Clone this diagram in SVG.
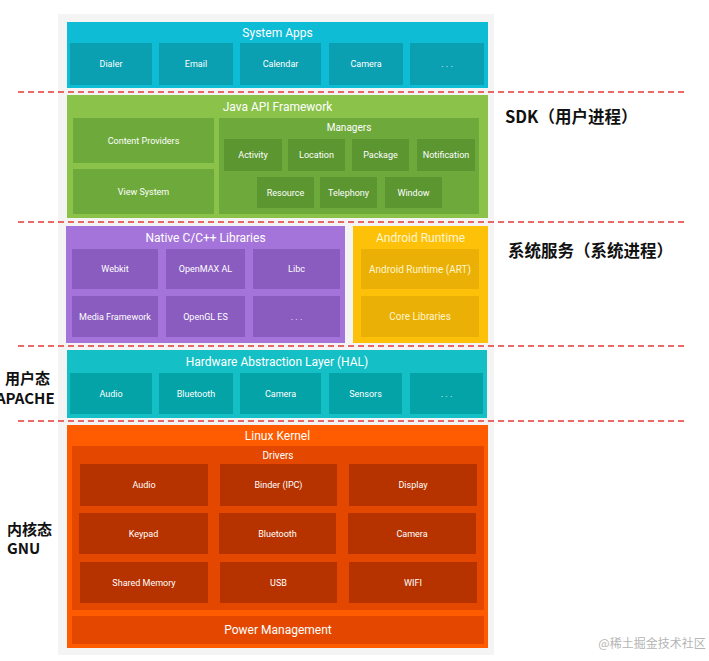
<svg xmlns="http://www.w3.org/2000/svg" width="709" height="661" viewBox="0 0 709 661">
<style>
text{font-family:Roboto,"Noto Sans","Liberation Sans",sans-serif;fill:#ffffff;text-anchor:middle;dominant-baseline:central}
.t{font-size:12px}
.m{font-size:10px}
.s{font-size:9px}
.cn{font-family:"Noto Sans CJK SC","Noto Sans",sans-serif;font-weight:bold;fill:#111;text-anchor:start;dominant-baseline:alphabetic}
.dash{stroke:#e53935;stroke-width:1.4;stroke-dasharray:6 4;fill:none}
.apps{fill:#0fbcd6}.appsb{fill:#0a9fb1}
.java{fill:#8bc34a}.javab{fill:#6eaa3b}.javam{fill:#5b9631}
.nat{fill:#a574da}.natb{fill:#8a5cc0}
.art{fill:#fdc10a}.artb{fill:#ebb005}
.hal{fill:#14c0c6}.halb{fill:#03a3a7}
.ker{fill:#ff5b00}.kerd{fill:#e44800}.kerb{fill:#b63300}
</style>
<rect x="0" y="0" width="709" height="661" fill="#ffffff"/>
<rect x="58" y="14" width="436" height="641" fill="#f4f4f4"/>

<g id="system-apps">
<rect class="apps" x="67" y="22" width="421" height="66"/>
<text class="t" x="277.5" y="33">System Apps</text>
<rect class="appsb" x="70" y="43" width="82" height="42"/><text class="s" x="111" y="64">Dialer</text>
<rect class="appsb" x="159" y="43" width="74" height="42"/><text class="s" x="196" y="64">Email</text>
<rect class="appsb" x="240" y="43" width="81" height="42"/><text class="s" x="280.5" y="64">Calendar</text>
<rect class="appsb" x="329" y="43" width="74" height="42"/><text class="s" x="366" y="64">Camera</text>
<rect class="appsb" x="410" y="43" width="74" height="42"/><text class="s" x="447" y="64">. . .</text>
</g>

<g id="java-api-framework">
<rect class="java" x="67" y="95" width="421" height="123"/>
<text class="t" x="277.5" y="107">Java API Framework</text>
<rect class="javab" x="73" y="118" width="141" height="45"/><text class="s" x="143.5" y="140.5">Content Providers</text>
<rect class="javab" x="73" y="169" width="141" height="45"/><text class="s" x="143.5" y="191.5">View System</text>
<rect class="javab" x="219" y="118" width="260" height="96"/><text class="m" x="349" y="127">Managers</text>
<rect class="javam" x="224" y="139" width="58" height="32"/><text class="s" x="253" y="155">Activity</text>
<rect class="javam" x="288" y="139" width="57" height="32"/><text class="s" x="316.5" y="155">Location</text>
<rect class="javam" x="352" y="139" width="57" height="32"/><text class="s" x="380.5" y="155">Package</text>
<rect class="javam" x="417" y="139" width="58" height="32"/><text class="s" x="446" y="155">Notification</text>
<rect class="javam" x="257" y="177" width="57" height="31"/><text class="s" x="285.5" y="192.5">Resource</text>
<rect class="javam" x="320" y="177" width="57" height="31"/><text class="s" x="348.5" y="192.5">Telephony</text>
<rect class="javam" x="385" y="177" width="57" height="31"/><text class="s" x="413.5" y="192.5">Window</text>
</g>

<g id="native-libraries">
<rect class="nat" x="66" y="226" width="279" height="117"/>
<text class="t" x="205.5" y="238">Native C/C++ Libraries</text>
<rect class="natb" x="72" y="249" width="86" height="40"/><text class="s" x="115" y="269">Webkit</text>
<rect class="natb" x="166" y="249" width="79" height="40"/><text class="s" x="205.5" y="269">OpenMAX AL</text>
<rect class="natb" x="253" y="249" width="87" height="40"/><text class="s" x="296.5" y="269">Libc</text>
<rect class="natb" x="72" y="296" width="86" height="41"/><text class="s" x="115" y="316.5">Media Framework</text>
<rect class="natb" x="166" y="296" width="79" height="41"/><text class="s" x="205.5" y="316.5">OpenGL ES</text>
<rect class="natb" x="253" y="296" width="87" height="41"/><text class="s" x="296.5" y="316.5">. . .</text>
</g>

<g id="android-runtime">
<rect class="art" x="353" y="226" width="135" height="117"/>
<text class="t" x="420.5" y="238" style="fill:#fff6d0">Android Runtime</text>
<rect class="artb" x="361" y="249" width="118" height="40"/><text x="420" y="269" style="fill:#fff6d0;font-size:10px">Android Runtime (ART)</text>
<rect class="artb" x="361" y="296" width="118" height="41"/><text x="420" y="316.5" style="fill:#fff6d0;font-size:10px">Core Libraries</text>
</g>

<g id="hal">
<rect class="hal" x="67" y="350" width="420" height="68"/>
<text class="t" x="277" y="362">Hardware Abstraction Layer (HAL)</text>
<rect class="halb" x="70" y="373" width="82" height="41"/><text class="s" x="111" y="393.5">Audio</text>
<rect class="halb" x="159" y="373" width="74" height="41"/><text class="s" x="196" y="393.5">Bluetooth</text>
<rect class="halb" x="240" y="373" width="81" height="41"/><text class="s" x="280.5" y="393.5">Camera</text>
<rect class="halb" x="329" y="373" width="73" height="41"/><text class="s" x="365.5" y="393.5">Sensors</text>
<rect class="halb" x="410" y="373" width="73" height="41"/><text class="s" x="446.5" y="393.5">. . .</text>
</g>

<g id="linux-kernel">
<rect class="ker" x="67" y="425" width="421" height="223"/>
<text class="t" x="277.5" y="436">Linux Kernel</text>
<rect class="kerd" x="72" y="446" width="412" height="164"/>
<text class="m" x="278" y="455">Drivers</text>
<rect class="kerb" x="80" y="464" width="128" height="42"/><text class="s" x="144" y="485">Audio</text>
<rect class="kerb" x="220" y="464" width="117" height="42"/><text class="s" x="278.5" y="485">Binder (IPC)</text>
<rect class="kerb" x="349" y="464" width="128" height="42"/><text class="s" x="413" y="485">Display</text>
<rect class="kerb" x="79" y="513" width="129" height="41"/><text class="s" x="143.5" y="533.5">Keypad</text>
<rect class="kerb" x="219" y="513" width="117" height="41"/><text class="s" x="277.5" y="533.5">Bluetooth</text>
<rect class="kerb" x="348" y="513" width="128" height="41"/><text class="s" x="412" y="533.5">Camera</text>
<rect class="kerb" x="80" y="562" width="128" height="41"/><text class="s" x="144" y="582.5">Shared Memory</text>
<rect class="kerb" x="220" y="562" width="117" height="41"/><text class="s" x="278.5" y="582.5">USB</text>
<rect class="kerb" x="349" y="562" width="128" height="41"/><text class="s" x="413" y="582.5">WIFI</text>
<rect class="kerd" x="72" y="616" width="412" height="28"/>
<text class="t" x="278" y="630">Power Management</text>
</g>

<g id="connectors">
<line class="dash" x1="18" y1="92" x2="686" y2="92"/>
<line class="dash" x1="18" y1="222" x2="686" y2="222"/>
<line class="dash" x1="18" y1="346" x2="686" y2="346"/>
<line class="dash" x1="18" y1="421" x2="686" y2="421"/>
</g>

<g id="labels">
<text class="cn" x="505" y="123" style="font-size:16.5px">SDK（用户进程）</text>
<text class="cn" x="508" y="257" style="font-size:16.5px">系统服务（系统进程）</text>
<text class="cn" x="5" y="384" style="font-size:15px">用户态</text>
<text class="cn" x="-4" y="404" style="font-size:15px">APACHE</text>
<text class="cn" x="7" y="535" style="font-size:15px">内核态</text>
<text class="cn" x="7" y="554" style="font-size:15px">GNU</text>
<text x="652" y="642" style="font-family:'Noto Sans CJK SC',sans-serif;font-size:12px;fill:#b5b5b5">@稀土掘金技术社区</text>
</g>
</svg>
